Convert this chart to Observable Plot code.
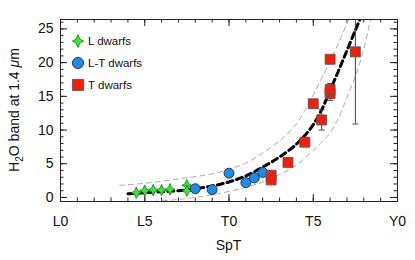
<!DOCTYPE html>
<html><head><meta charset="utf-8">
<script src="https://cdn.jsdelivr.net/npm/d3@7"></script>
<script src="https://cdn.jsdelivr.net/npm/@observablehq/plot@0.6"></script>
<style>
body{margin:0;background:#fff;}
#wrap{position:relative;width:415px;height:260px;font-family:"Liberation Sans",Arial,sans-serif;}
#legend{position:absolute;left:71px;top:30px;font-size:11.5px;color:#111;}
#legend .row{display:flex;align-items:center;height:22px;}
#legend svg{width:14px;height:16px;margin-right:3px;}
</style></head><body><div id="wrap"><div id="legend"></div></div>
<script>
// ---- data ----
const xTicks = [0, 5, 10, 15, 20];
const xTickLabels = ["L0", "L5", "T0", "T5", "Y0"];
const yTicks = [0, 5, 10, 15, 20, 25];

const lSpT = [4.5, 5, 5.5, 6, 6.5, 7.5, 7.5];
const lVal = [0.7, 1.0, 1.1, 1.1, 1.2, 1.8, 1.0];

const ltSpT = [8, 9, 10, 11, 11.5, 12];
const ltVal = [1.3, 1.15, 3.6, 2.2, 2.9, 3.7];

const tSpT = [12.5, 12.5, 13.5, 14.5, 15, 15.5, 16, 16, 16, 17.5];
const tVal = [3.3, 2.6, 5.2, 8.2, 13.9, 11.5, 15.4, 16.0, 20.5, 21.6];
const tErr = [0.5, 0.5, 0.3, 0.3, 0.3, 1.5, 1.0, 0.9, 0.3, 10.7];

const fitSpT = [4.0, 5, 6, 7, 8, 9, 10, 11, 12, 13, 14, 14.5, 15, 15.5, 16, 16.5, 17, 17.5, 17.8];
const fitVal = [0.55, 0.7, 0.85, 1.0, 1.3, 1.7, 2.3, 3.2, 4.5, 6.0, 7.9, 9.2, 10.8, 13.0, 15.9, 18.8, 21.8, 24.8, 26.6];

const upSpT = [3.5, 5, 7, 9, 10, 11, 12, 13, 14, 14.5, 15, 15.5, 16, 16.5, 17, 17.2];
const upVal = [1.8, 2.1, 2.75, 3.5, 4.2, 5.1, 6.6, 8.4, 10.9, 12.9, 15.2, 17.7, 20.2, 22.9, 25.8, 27];

const loSpT = [5.5, 7, 8, 9, 10, 11, 12, 13, 14, 15, 15.5, 16, 16.5, 17, 17.5, 18, 18.3, 18.5];
const loVal = [-0.6, -0.3, 0, 0.4, 0.9, 1.5, 2.3, 3.4, 4.8, 7.0, 8.2, 9.6, 11.8, 14.8, 18.0, 22.0, 25.3, 27.5];

// ---- build tables ----
const zip = (xs, ys) => xs.map((x, i) => ({x, y: ys[i]}));
const lData = zip(lSpT, lVal);
const ltData = zip(ltSpT, ltVal);
const tData = tSpT.map((x, i) => ({x, y: tVal[i], e: tErr[i]}));
const fit = zip(fitSpT, fitVal), up = zip(upSpT, upVal), lo = zip(loSpT, loVal);

const star4 = {draw(ctx, size) {
  const R = Math.sqrt(size / Math.PI), Rh = R * 0.85, r = R * 0.42;
  const pts = [];
  for (let i = 0; i < 8; i++) {
    const a = i * Math.PI / 4 - Math.PI / 2;
    const rad = i % 2 ? r : (i % 4 === 0 ? R : Rh);
    pts.push([rad * Math.cos(a), rad * Math.sin(a)]);
  }
  ctx.moveTo(...pts[0]);
  for (let i = 1; i < 8; i++) ctx.lineTo(...pts[i]);
  ctx.closePath();
}};
const cap = {draw(ctx, size) { ctx.moveTo(-3, 0); ctx.lineTo(3, 0); }};

const W = 415, H = 260, mL = 60, mR = 18, mT = 19, mB = 59;
const fw = W - mL - mR, fh = H - mT - mB;
const xMinor = d3.range(0, 21, 1), yMinor = d3.range(0, 27, 1);
const tickCol = "#222";

const plot = Plot.plot({
  width: W, height: H,
  marginLeft: mL, marginRight: mR, marginTop: mT, marginBottom: mB,
  style: {fontSize: "14px", fontFamily: "Liberation Sans, Arial, sans-serif", background: "white", color: "#111"},
  x: {domain: [0, 20]},
  y: {domain: [-0.6, 26.4]},
  marks: [
    // inward ticks on all four sides
    Plot.tickX(xMinor, {x: d => d, insetTop: fh - 3.5, stroke: tickCol}),
    Plot.tickX(xTicks, {x: d => d, insetTop: fh - 7, stroke: tickCol}),
    Plot.tickX(xMinor, {x: d => d, insetBottom: fh - 3.5, stroke: tickCol}),
    Plot.tickX(xTicks, {x: d => d, insetBottom: fh - 7, stroke: tickCol}),
    Plot.tickY(yMinor, {y: d => d, insetRight: fw - 3.5, stroke: tickCol}),
    Plot.tickY(yTicks, {y: d => d, insetRight: fw - 7, stroke: tickCol}),
    Plot.tickY(yMinor, {y: d => d, insetLeft: fw - 3.5, stroke: tickCol}),
    Plot.tickY(yTicks, {y: d => d, insetLeft: fw - 7, stroke: tickCol}),
    Plot.axisX({ticks: xTicks, tickFormat: d => xTickLabels[xTicks.indexOf(d)], tickSize: 0, tickPadding: 15, label: null}),
    Plot.axisY({ticks: yTicks, tickSize: 0, tickPadding: 7, label: null}),
    // fit and bands
    Plot.line(up, {x: "x", y: "y", stroke: "#aaa", strokeWidth: 1, strokeDasharray: "5,4", curve: "catmull-rom", clip: true}),
    Plot.line(lo, {x: "x", y: "y", stroke: "#aaa", strokeWidth: 1, strokeDasharray: "5,4", curve: "catmull-rom", clip: true}),
    Plot.line(fit, {x: "x", y: "y", stroke: "#000", strokeWidth: 3, strokeDasharray: "6,4", curve: "catmull-rom", clip: true}),
    // error bars
    Plot.ruleX(tData, {x: "x", y1: d => d.y - d.e, y2: d => d.y + d.e, stroke: "#444", strokeWidth: 1, clip: true}),
    Plot.dot(tData, {x: "x", y: d => d.y - d.e, symbol: cap, r: 3, stroke: "#444", strokeWidth: 1}),
    Plot.dot(tData.filter(d => d.y + d.e < 26.4), {x: "x", y: d => d.y + d.e, symbol: cap, r: 3, stroke: "#444", strokeWidth: 1}),
    // points
    Plot.dot(lData, {x: "x", y: "y", symbol: star4, r: 5.8, fill: "#2bf02b", stroke: "#157a15", strokeWidth: 0.8}),
    Plot.dot(ltData, {x: "x", y: "y", symbol: "circle", r: 5, fill: "#1a8cf0", stroke: "#123", strokeWidth: 0.8}),
    Plot.dot(tData, {x: "x", y: "y", symbol: "square", r: 5.6, fill: "#ff1a00", stroke: "#555", strokeWidth: 0.9}),
    Plot.frame({stroke: "#222", strokeWidth: 1})
  ]
});

const svg = d3.select(plot);
const yl = svg.append("text")
  .attr("transform", `translate(19,${mT + fh / 2}) rotate(-90)`)
  .attr("text-anchor", "middle").attr("font-size", 14).attr("fill", "#111");
yl.append("tspan").text("H");
yl.append("tspan").attr("font-size", 10).attr("dy", 4).text("2");
yl.append("tspan").attr("dy", -4).text("O band at 1.4 ");
yl.append("tspan").attr("font-style", "italic").text("μ");
yl.append("tspan").text("m");
svg.append("text").attr("x", mL + fw / 2).attr("y", 250).attr("text-anchor", "middle")
  .attr("font-size", 14).attr("fill", "#111").text("SpT");

document.getElementById("wrap").prepend(plot);

// legend
const legendNames = ["L dwarfs", "L-T dwarfs", "T dwarfs"];
const legendFills = ["#2bf02b", "#1a8cf0", "#ff1a00"];
const legendStrokes = ["#157a15", "#123", "#555"];
const legendShapes = [
  `<path d="${(() => { const p = d3.path(); star4.draw(p, Math.PI * 42); return p.toString(); })()}" transform="translate(7,8)"/>`,
  `<circle cx="7" cy="8" r="5.6"/>`,
  `<rect x="1.5" y="2.5" width="11" height="11"/>`
];
const lg = document.getElementById("legend");
legendNames.forEach((n, i) => {
  const row = document.createElement("div");
  row.className = "row";
  row.innerHTML = `<svg viewBox="0 0 14 16"><g fill="${legendFills[i]}" stroke="${legendStrokes[i]}" stroke-width="0.8">${legendShapes[i]}</g></svg><span>${n}</span>`;
  lg.appendChild(row);
});
</script></body></html>
